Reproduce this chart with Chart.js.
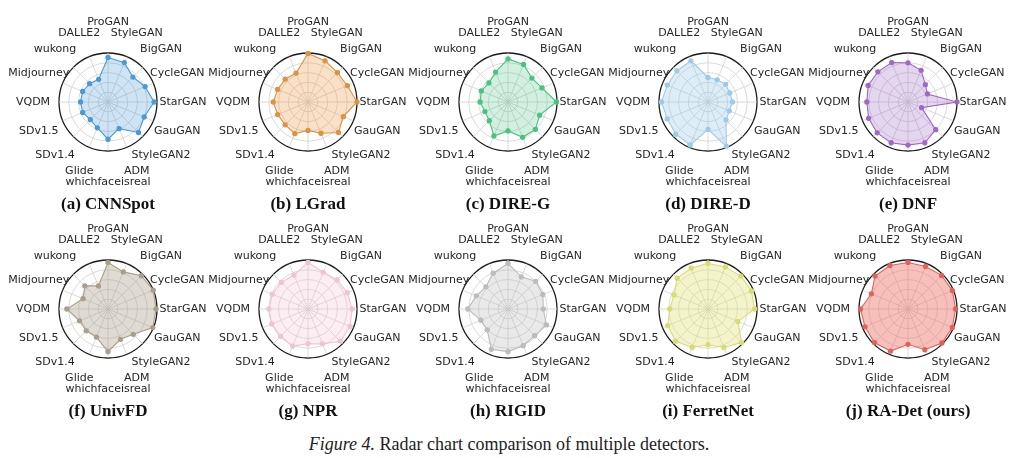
<!DOCTYPE html>
<html lang="en">
<head>
    <meta charset="UTF-8">
    <title>Radar chart comparison of multiple detectors</title>
    <script src="https://cdn.jsdelivr.net/npm/chart.js"></script>
    <style>
        body {
            margin: 0;
            padding: 0;
            background: #fff;
        }
        #figure {
            position: relative;
            width: 1024px;
            height: 458px;
            overflow: hidden;
        }
        #figure canvas {
            position: absolute;
        }
        .title {
            position: absolute;
            width: 200px;
            text-align: center;
            font-family: "Liberation Serif", serif;
            font-weight: bold;
            font-size: 17px;
            color: #111;
        }
        .caption {
            position: absolute;
            left: 0;
            width: 1018px;
            top: 434px;
            text-align: center;
            font-family: "Liberation Serif", serif;
            font-size: 18px;
            color: #222;
        }
    </style>
</head>
<body>
    <div id="figure">
        <div class="caption"><i>Figure 4.</i> Radar chart comparison of multiple detectors.</div>
    </div>

    <script>
        // generators, clockwise from the top
        const categories = ['ProGAN', 'StyleGAN', 'BigGAN', 'CycleGAN', 'StarGAN', 'GauGAN', 'StyleGAN2', 'ADM',
            'whichfaceisreal', 'Glide', 'SDv1.4', 'SDv1.5', 'VQDM', 'Midjourney', 'wukong', 'DALLE2'];

        const cnnspot   = [91, 87, 72, 82, 94, 80, 88, 59, 76, 57, 51, 56, 56, 56, 53, 50];
        const lgrad     = [99, 91, 85, 87, 100, 78, 88, 69, 58, 70, 66, 67, 71, 67, 66, 64];
        const direG     = [88, 83, 69, 75, 99, 70, 79, 78, 59, 75, 54, 51, 57, 59, 55, 66];
        const direD     = [50, 49, 51, 48, 50, 47, 52, 98, 56, 95, 93, 90, 95, 90, 90, 91];
        const dnf       = [80, 70, 50, 43, 100, 30, 80, 90, 88, 90, 89, 87, 84, 88, 87, 87];
        const univfd    = [95, 82, 96, 100, 98, 99, 73, 67, 87, 62, 63, 63, 84, 55, 67, 51];
        const npr       = [95, 81, 84, 87, 90, 93, 93, 77, 71, 82, 79, 80, 80, 79, 77, 75];
        const rigid     = [93, 71, 80, 77, 72, 85, 77, 81, 87, 89, 60, 60, 82, 70, 64, 79];
        const ferretnet = [93, 93, 95, 96, 95, 66, 97, 85, 73, 85, 93, 89, 78, 75, 89, 90];
        const radet     = [95, 94, 97, 98, 97, 98, 98, 90, 72, 93, 97, 95, 97, 81, 95, 96];

        const titles = ['(a) CNNSpot', '(b) LGrad', '(c) DIRE-G', '(d) DIRE-D', '(e) DNF',
            '(f) UnivFD', '(g) NPR', '(h) RIGID', '(i) FerretNet', '(j) RA-Det (ours)'];
        const series = [cnnspot, lgrad, direG, direD, dnf, univfd, npr, rigid, ferretnet, radet];
        const colors = ['#4a9ad8', '#dc9340', '#48c480', '#9ccbe8', '#a068c4',
            '#ab9e89', '#f0c3d3', '#bcbcbc', '#d9dc72', '#e0625c'];
        const fills = ['rgba(74,154,216,0.27)', 'rgba(236,160,80,0.32)', 'rgba(72,196,128,0.25)', 'rgba(156,203,232,0.35)',
            'rgba(160,104,196,0.27)', 'rgba(171,158,137,0.38)', 'rgba(246,200,216,0.32)', 'rgba(188,188,188,0.33)',
            'rgba(224,228,120,0.40)', 'rgba(240,115,105,0.45)'];

        // axis names, centred on a ring outside the circle
        const axisNames = {
            id: 'axisNames',
            afterDraw(chart) {
                const r = chart.scales.r;
                const ctx = chart.ctx;
                ctx.save();
                ctx.font = '11px "DejaVu Sans"';
                ctx.fillStyle = '#262626';
                ctx.textAlign = 'center';
                ctx.textBaseline = 'middle';
                chart.data.labels.forEach((label, i) => {
                    const k = (i % 8 === 0) ? 1.63 : 1.53;
                    const p = r.getPointPosition(i, r.drawingArea * k);
                    ctx.fillText(label, p.x, p.y);
                });
                ctx.restore();
            }
        };

        const fig = document.getElementById('figure');

        series.forEach((values, n) => {
            const col = n % 5;
            const row = Math.floor(n / 5);
            const cx = 108 + 200 * col;
            const cy = row === 0 ? 102 : 309;

            const canvas = document.createElement('canvas');
            canvas.width = 220;
            canvas.height = 200;
            canvas.style.left = (cx - 110) + 'px';
            canvas.style.top = (cy - 100) + 'px';
            fig.appendChild(canvas);

            const title = document.createElement('div');
            title.className = 'title';
            title.textContent = titles[n];
            title.style.left = (cx - 100) + 'px';
            title.style.top = (row === 0 ? 194 : 401) + 'px';
            fig.appendChild(title);

            new Chart(canvas.getContext('2d'), {
                type: 'radar',
                data: {
                    labels: categories,
                    datasets: [{
                        data: values,
                        borderColor: colors[n],
                        backgroundColor: fills[n],
                        borderWidth: 1.1,
                        pointBackgroundColor: colors[n],
                        pointBorderColor: colors[n],
                        pointRadius: 2.1,
                        fill: true
                    }]
                },
                options: {
                    responsive: false,
                    animation: false,
                    layout: {
                        padding: { left: 61, right: 61, top: 51, bottom: 51 }
                    },
                    scales: {
                        r: {
                            min: 0,
                            max: 100,
                            ticks: { display: false, stepSize: 20 },
                            pointLabels: { display: false },
                            grid: {
                                circular: true,
                                color: c => c.index === 5 ? '#1a1a1a' : '#d0d0d0',
                                lineWidth: c => c.index === 5 ? 1.3 : 0.8
                            },
                            angleLines: { color: '#d0d0d0', lineWidth: 0.8 }
                        }
                    },
                    plugins: {
                        legend: { display: false },
                        tooltip: { enabled: false }
                    }
                },
                plugins: [axisNames]
            });
        });
    </script>
</body>
</html>
